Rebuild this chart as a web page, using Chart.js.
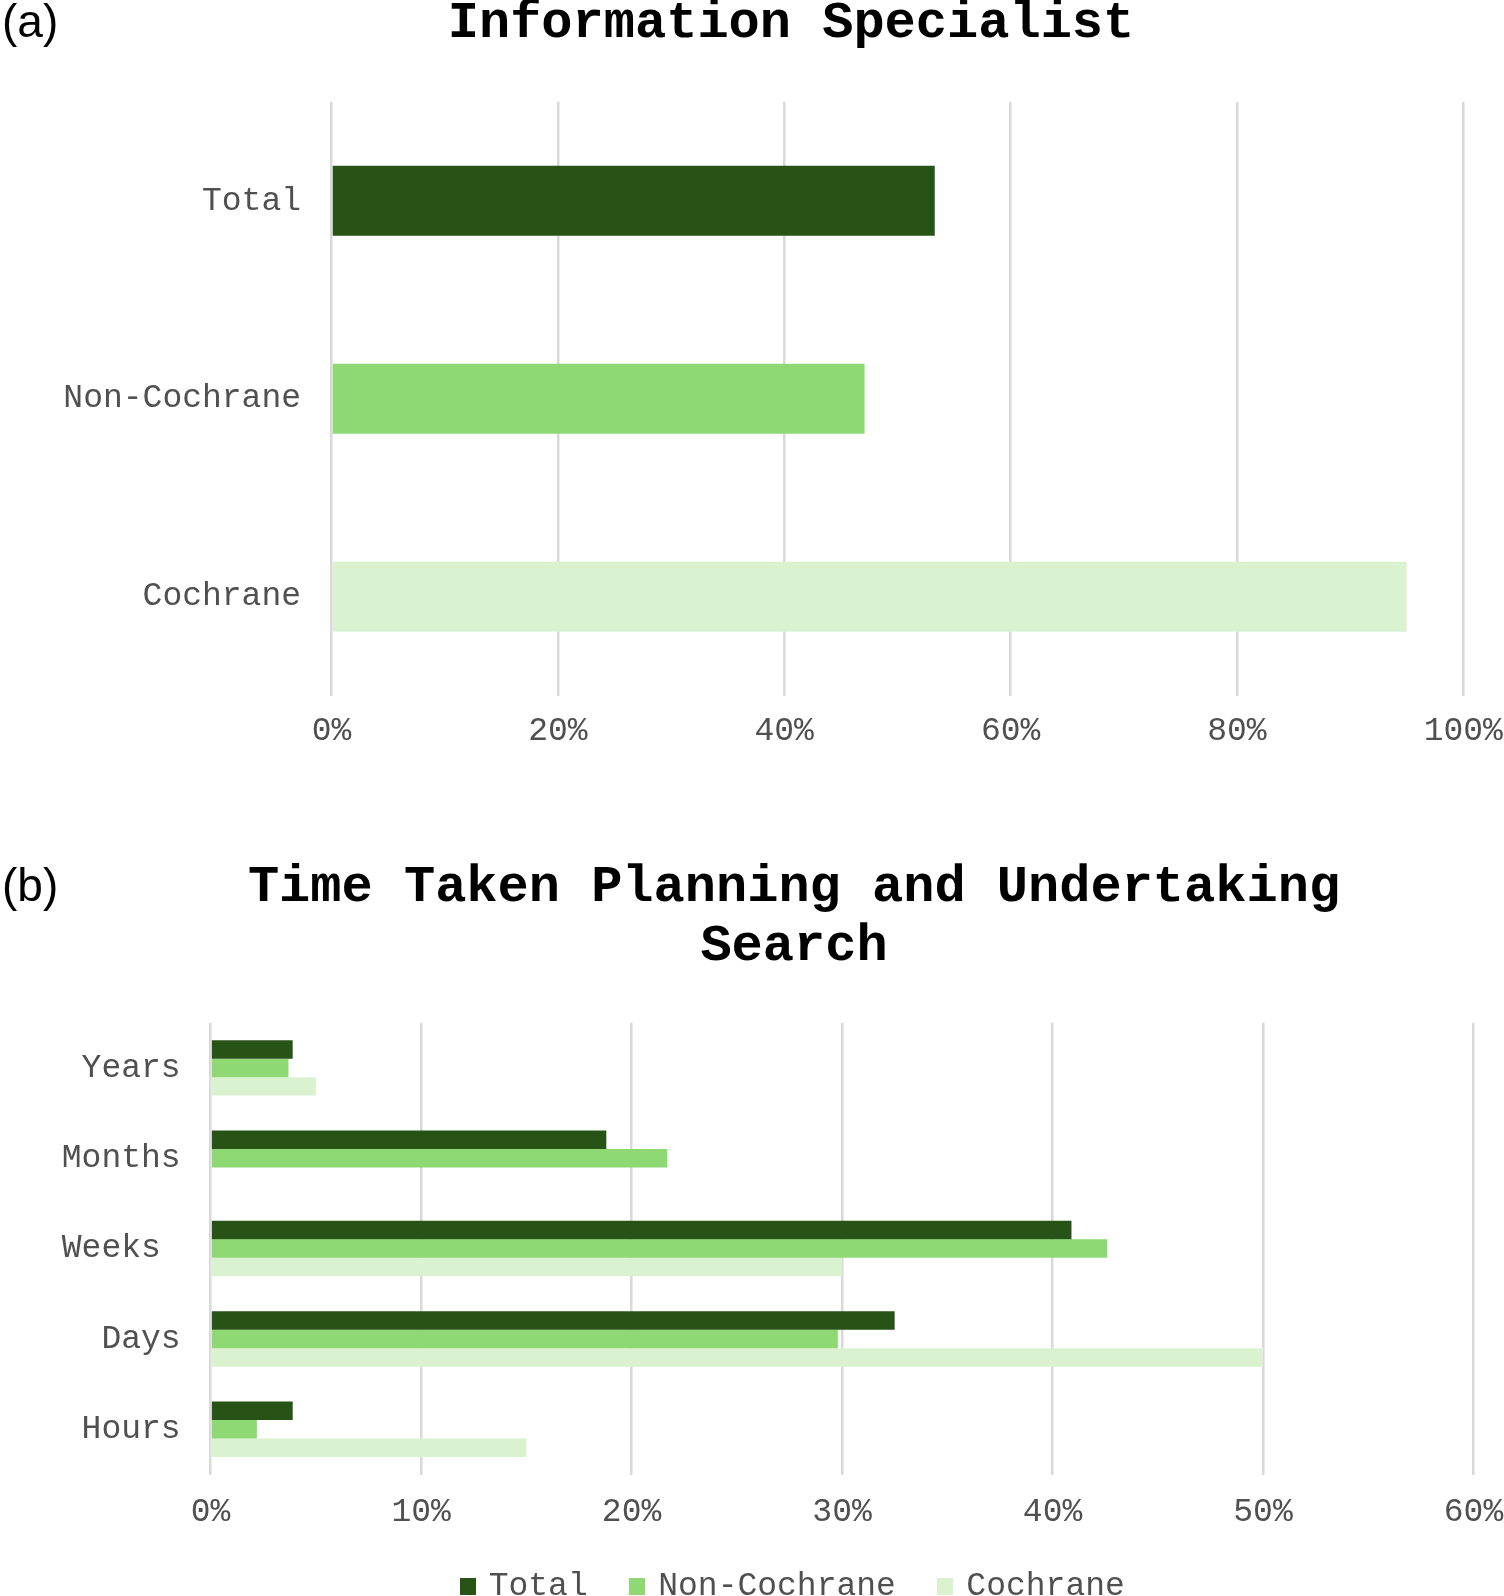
<!DOCTYPE html>
<html><head><meta charset="utf-8">
<script src="https://cdn.jsdelivr.net/npm/chart.js@4.4.1/dist/chart.umd.min.js"></script>
<style>
html,body{margin:0;padding:0;background:#fff;overflow:hidden;width:1504px;height:1596px;position:relative;}
#wrapA{position:absolute;left:0;top:-20px;width:1582px;height:780px;}
#wrapB{position:absolute;left:0;top:800px;width:1582px;height:813px;}
.panel{position:absolute;left:2px;font-family:"Liberation Sans Narrow","Liberation Sans",Arial,sans-serif;font-size:46px;line-height:1;color:#000;}
</style></head><body>
<div id="wrapA"><canvas id="chartA"></canvas></div>
<div id="wrapB"><canvas id="chartB"></canvas></div>
<div class="panel" style="top:-2px">(a)</div>
<div class="panel" style="top:862px">(b)</div>
<script>
// Panel (a): Information Specialist (percent)
const specialistCategories = ['Total', 'Non-Cochrane', 'Cochrane'];
const specialistValues = [53.3, 47.1, 95];

// Panel (b): Time taken planning and undertaking search (percent)
const timeCategories = ['Years', 'Months', 'Weeks ', 'Days', 'Hours'];
const seriesNames = ['Total', 'Non-Cochrane', 'Cochrane'];
const timeTotal = [3.9, 18.8, 40.9, 32.5, 3.9];
const timeNonCochrane = [3.7, 21.7, 42.6, 29.8, 2.2];
const timeCochrane = [5, 0, 30, 50, 15];

const seriesColors = ['#275317', '#8ED973', '#DAF2D0'];
const MONO = 'Liberation Mono';
const TEXT = '#505050';

// invisible right-hand spacer axis so that title/legend centre matches the original layout
function spacer(width) {
  return {
    type: 'linear', axis: 'y', position: 'right', display: true,
    grid: { display: false, drawTicks: false }, border: { display: false },
    ticks: { display: false },
    afterFit: s => { s.width = width; }
  };
}

// small square legend swatches
const swatches = seriesColors.map(c => {
  const cv = document.createElement('canvas');
  cv.width = 16; cv.height = 17;
  const g = cv.getContext('2d');
  g.fillStyle = c; g.fillRect(0, 0, 16, 17);
  return cv;
});

new Chart(document.getElementById('chartA'), {
  type: 'bar',
  data: {
    labels: specialistCategories,
    datasets: [{
      data: specialistValues,
      backgroundColor: seriesColors,
      borderWidth: 0,
      barPercentage: 0.354,
      categoryPercentage: 1
    }]
  },
  options: {
    indexAxis: 'y',
    responsive: true,
    maintainAspectRatio: false,
    animation: false,
    layout: { padding: { left: 0, right: 0, top: 0, bottom: 8.5 } },
    plugins: {
      legend: { display: false },
      tooltip: { enabled: false },
      title: {
        display: true,
        text: 'Information Specialist',
        color: '#000',
        font: { family: MONO, size: 52, weight: 'bold', lineHeight: 1.2 },
        padding: { top: 12.8, bottom: 46.6 }
      }
    },
    scales: {
      x: {
        min: 0, max: 100,
        ticks: { stepSize: 20, callback: v => v + '%', padding: 16.2, color: TEXT,
                 font: { family: MONO, size: 33, lineHeight: 1.2 }, maxRotation: 0, autoSkip: false },
        grid: { color: '#D9D9D9', lineWidth: 2.5, drawTicks: false },
        border: { display: false },
        afterFit: s => { s.height = 55.8; }
      },
      y: {
        ticks: { padding: 30.5, color: TEXT, font: { family: MONO, size: 33, lineHeight: 1.2 } },
        grid: { display: false, drawTicks: false },
        border: { display: false },
        afterFit: s => { s.width = 331.5; }
      },
      yRight: spacer(118.7)
    }
  }
});

new Chart(document.getElementById('chartB'), {
  type: 'bar',
  data: {
    labels: timeCategories,
    datasets: [
      { label: seriesNames[0], data: timeTotal, backgroundColor: seriesColors[0] },
      { label: seriesNames[1], data: timeNonCochrane, backgroundColor: seriesColors[1] },
      { label: seriesNames[2], data: timeCochrane, backgroundColor: seriesColors[2] }
    ].map(d => Object.assign(d, { borderWidth: 0, barPercentage: 1, categoryPercentage: 0.614, yAxisID: 'y' }))
  },
  options: {
    indexAxis: 'y',
    responsive: true,
    maintainAspectRatio: false,
    animation: false,
    layout: { padding: { left: 6, right: 0, top: 0, bottom: 0.5 } },
    plugins: {
      tooltip: { enabled: false },
      title: {
        display: true,
        text: ['Time Taken Planning and Undertaking', 'Search'],
        color: '#000',
        font: { family: MONO, size: 52, weight: 'bold', lineHeight: 59 / 52 },
        padding: { top: 58.8, bottom: 45.9 }
      },
      legend: {
        display: true,
        position: 'bottom',
        labels: {
          usePointStyle: true, boxWidth: 9, boxHeight: 16, padding: 45, color: TEXT,
          font: { family: MONO, size: 33, lineHeight: 1.0 },
          generateLabels: chart => Chart.defaults.plugins.legend.labels.generateLabels(chart)
            .map((item, i) => Object.assign(item, { pointStyle: swatches[i] }))
        }
      }
    },
    scales: {
      x: {
        min: 0, max: 60,
        ticks: { stepSize: 10, callback: v => v + '%', padding: 21, color: TEXT,
                 font: { family: MONO, size: 33, lineHeight: 1.0 }, maxRotation: 0, autoSkip: false },
        grid: { color: '#D9D9D9', lineWidth: 2.5, drawTicks: false },
        border: { display: false },
        afterFit: s => { s.height = 50; }
      },
      y: {
        ticks: { padding: 30, color: TEXT, font: { family: MONO, size: 33, lineHeight: 1.0 } },
        grid: { display: false, drawTicks: false },
        border: { display: false },
        afterFit: s => { s.width = 204.6; }
      },
      yRight: spacer(108.5)
    }
  }
});
</script>
</body></html>
